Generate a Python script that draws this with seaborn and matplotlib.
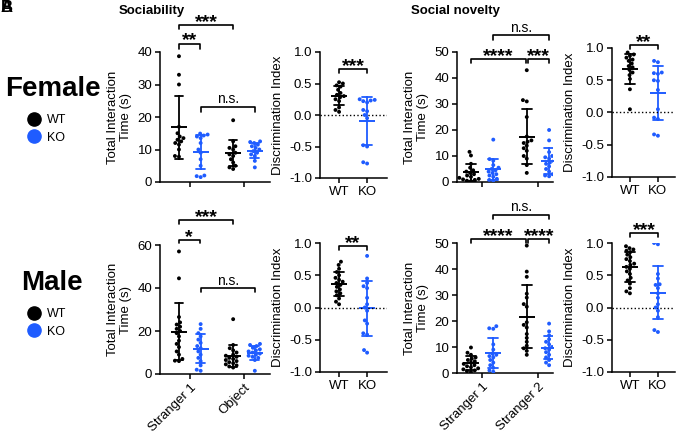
import pandas as pd
import seaborn as sns
import matplotlib.pyplot as plt
from matplotlib.lines import Line2D

sns.set_style("ticks")
plt.rcParams["font.family"] = ["Liberation Sans", "DejaVu Sans"]
plt.rcParams["axes.unicode_minus"] = False
for key in ["text.color", "axes.labelcolor", "xtick.color", "ytick.color", "axes.edgecolor"]:
    plt.rcParams[key] = "black"

KO_BLUE = "#1f5cff"
genotypes = ["WT", "KO"]
palette = {"WT": "black", "KO": KO_BLUE}

# ---- female, sociability: total interaction time (s)
f_soc_s1_wt = [38.7, 33, 30, 17, 15, 14, 13.5, 13, 12.5, 12, 11.5, 10, 8, 7.8]
f_soc_s1_ko = [14.9, 14.6, 14.3, 14, 13.5, 12, 10, 9, 7, 5, 2, 1.8, 1.5]
f_soc_obj_wt = [19, 12.5, 11, 10.5, 10, 9, 8.5, 8, 7, 6, 5, 4.5, 4]
f_soc_obj_ko = [12.5, 12.3, 12, 11.5, 11, 10.5, 10, 9.5, 9, 8.5, 8, 6.5, 4.5]
# female, sociability discrimination index
f_soc_di_wt = [0.52, 0.5, 0.47, 0.45, 0.4, 0.35, 0.32, 0.3, 0.28, 0.25, 0.22, 0.12, 0.08, 0.05]
f_soc_di_ko = [0.25, 0.24, 0.23, 0.22, 0.2, 0.08, 0.06, 0.0, -0.05, -0.48, -0.5, -0.75, -0.77]

# ---- female, social novelty
f_nov_s1_wt = [11.6, 10.2, 7, 5.5, 4.5, 4, 3.5, 3, 2.5, 2, 1.6, 1.2, 1, 0.8, 0.5, 0.3]
f_nov_s1_ko = [16.3, 8.8, 8.2, 6.5, 5.5, 5, 4.5, 4, 3.5, 3, 2.5, 2, 1.2, 0.8, 0.5]
f_nov_s2_wt = [43, 31.5, 31, 25, 17.5, 16, 15.5, 15, 14, 13, 12, 10, 9, 6.5, 3.5]
f_nov_s2_ko = [20, 16, 11.5, 10, 9.5, 9, 8, 7.5, 7, 6, 5, 4, 3, 2.5, 2.2]
f_nov_di_wt = [0.93, 0.9, 0.88, 0.85, 0.82, 0.8, 0.76, 0.72, 0.7, 0.66, 0.62, 0.58, 0.52, 0.36, 0.05]
f_nov_di_ko = [0.8, 0.78, 0.62, 0.61, 0.6, 0.5, 0.49, 0.35, 0.05, -0.08, -0.1, -0.34, -0.36]

# ---- male, sociability
m_soc_s1_wt = [57, 44.5, 26.5, 24, 23, 22, 21, 20, 19, 17.5, 15.5, 14, 12.5, 10.5, 9, 7, 6.2, 6]
m_soc_s1_ko = [23.2, 21, 19, 17.5, 16, 14.5, 13, 12, 10.5, 9, 7.5, 6, 4, 2, 1.5]
m_soc_obj_wt = [25.5, 13.5, 12, 11, 10, 9, 8.5, 8, 7.5, 7, 6.5, 6, 5.5, 5, 4.5, 4, 3.5, 3]
m_soc_obj_ko = [14, 13.5, 13, 12.2, 11.5, 11, 10.5, 10, 9.5, 9, 8.5, 8, 7.5, 6.5, 1.5]
m_soc_di_wt = [0.71, 0.66, 0.6, 0.55, 0.5, 0.46, 0.43, 0.4, 0.38, 0.35, 0.32, 0.28, 0.25,
               0.22, 0.19, 0.14, 0.09, 0.05]
m_soc_di_ko = [0.8, 0.45, 0.38, 0.33, 0.3, 0.15, 0.05, 0.0, -0.05, -0.2, -0.25, -0.4, -0.42, -0.66, -0.7]

# ---- male, social novelty
m_nov_s1_wt = [9.8, 7.8, 7, 6, 5.5, 5, 4.5, 4, 3.5, 3, 2.6, 2.2, 1.8, 1.4, 1, 0.7, 0.4]
m_nov_s1_ko = [18, 17.2, 17, 11, 9, 7.5, 7, 6.5, 6, 5, 4, 3, 2, 1, 0.5]
m_nov_s2_wt = [49, 39, 37, 30.5, 29, 26.5, 25.5, 19.5, 18.5, 17.5, 15, 13.5, 12, 10.5, 9.5, 8.5, 7]
m_nov_s2_ko = [19, 16, 14.5, 13, 12, 11, 10, 9.5, 9, 8, 7, 6, 5, 4, 3]
m_nov_di_wt = [0.95, 0.92, 0.9, 0.88, 0.86, 0.82, 0.78, 0.75, 0.72, 0.68, 0.66, 0.63, 0.6,
               0.56, 0.52, 0.46, 0.42, 0.37, 0.3, 0.25, 0.22]
m_nov_di_ko = [1.0, 0.98, 0.52, 0.45, 0.36, 0.35, 0.3, 0.22, 0.15, 0.05, 0.0, -0.05, -0.15, -0.35, -0.38]

soc_conds = ["Stranger 1", "Object"]
nov_conds = ["Stranger 1", "Stranger 2"]


def to_df(groups):
    rows = []
    for cond, geno, vals in groups:
        for v in vals:
            rows.append((cond, geno, v))
    return pd.DataFrame(rows, columns=["cond", "geno", "value"])


def scatter_sd(ax, df, x, order, dodge, capsize, mean_w):
    sns.swarmplot(data=df, x=x, y="value", hue="geno", order=order, hue_order=genotypes,
                  palette=palette, dodge=dodge, size=2.8, ax=ax, legend=False)
    sns.pointplot(data=df, x=x, y="value", hue="geno", order=order, hue_order=genotypes,
                  palette=palette, dodge=0.4 if dodge else False, errorbar="sd",
                  markers="_", markersize=mean_w, markeredgewidth=1.4, linestyle="none",
                  capsize=capsize, err_kws={"linewidth": 1.3}, ax=ax, legend=False)
    ax.set_xlabel("")


def bracket(ax, x1, x2, y, leg, label):
    ax.plot([x1, x1, x2, x2], [y - leg, y, y, y - leg], color="black", lw=1.2, clip_on=False)
    if label == "n.s.":
        ax.annotate(label, ((x1 + x2) / 2, y), xytext=(0, 2.5), textcoords="offset points",
                    ha="center", va="baseline", fontsize=10, annotation_clip=False)
    else:
        ax.annotate(label, ((x1 + x2) / 2, y), xytext=(0, -1.2), textcoords="offset points",
                    ha="center", va="baseline", fontsize=14, fontweight="bold",
                    annotation_clip=False)


def style(ax, yticks, ylabel):
    ax.set_ylim(yticks[0], yticks[-1])
    ax.set_yticks(yticks)
    ax.set_ylabel(ylabel, fontsize=9.5, linespacing=1.1)
    for s in ["top", "right"]:
        ax.spines[s].set_visible(False)
    for s in ["left", "bottom"]:
        ax.spines[s].set_linewidth(1.1)
    ax.tick_params(direction="out", length=3.5, width=1.1, labelsize=9.5, pad=2)


fig = plt.figure(figsize=(6.8, 4.37), dpi=100)
W, H = 680, 437


def add_ax(x0, x1, ytop, ybot):
    return fig.add_axes([x0 / W, 1 - ybot / H, (x1 - x0) / W, (ybot - ytop) / H])


time_label = "Total Interaction\nTime (s)"
di_label = "Discrimination Index"

rows = [
    dict(top=52, bot=182, nov_top=52, nov_bot=182, di_top=52, di_bot=178, di2_top=48, di2_bot=177,
         bot_row=False,
         soc=[f_soc_s1_wt, f_soc_s1_ko, f_soc_obj_wt, f_soc_obj_ko], soc_ticks=[0, 10, 20, 30, 40],
         soc_di=[f_soc_di_wt, f_soc_di_ko],
         nov=[f_nov_s1_wt, f_nov_s1_ko, f_nov_s2_wt, f_nov_s2_ko], nov_di=[f_nov_di_wt, f_nov_di_ko],
         soc_br=[(-0.2, 0.8, 48.3, 1.2, "***"), (-0.2, 0.18, 42.5, 1.6, "**"), (0.2, 1.2, 23.1, 1.6, "n.s.")],
         soc_di_br=(0.73, "***"),
         nov_br=[(0.2, 1.2, 56.5, 1.9, "n.s."), (-0.2, 0.78, 47.3, 1.5, "****"), (0.83, 1.2, 47.3, 1.5, "***")],
         nov_di_br=(1.047, "**")),
    dict(top=245, bot=374, nov_top=243, nov_bot=373, di_top=243, di_bot=372, di2_top=243, di2_bot=372,
         bot_row=True,
         soc=[m_soc_s1_wt, m_soc_s1_ko, m_soc_obj_wt, m_soc_obj_ko], soc_ticks=[0, 20, 40, 60],
         soc_di=[m_soc_di_wt, m_soc_di_ko],
         nov=[m_nov_s1_wt, m_nov_s1_ko, m_nov_s2_wt, m_nov_s2_ko], nov_di=[m_nov_di_wt, m_nov_di_ko],
         soc_br=[(-0.2, 0.8, 71.6, 1.8, "***"), (-0.2, 0.18, 62.3, 1.4, "*"), (0.2, 1.2, 40, 1.9, "n.s.")],
         soc_di_br=(0.95, "**"),
         nov_br=[(0.2, 1.2, 60.8, 1.6, "n.s."), (-0.2, 0.78, 51.5, 1.5, "****"), (0.83, 1.2, 51.5, 1.5, "****")],
         nov_di_br=(1.155, "***")),
]

di_ticks = [-1.0, -0.5, 0.0, 0.5, 1.0]

for r in rows:
    # sociability time
    ax = add_ax(160, 270, r["top"], r["bot"])
    s = r["soc"]
    df = to_df([("Stranger 1", "WT", s[0]), ("Stranger 1", "KO", s[1]),
                ("Object", "WT", s[2]), ("Object", "KO", s[3])])
    scatter_sd(ax, df, "cond", soc_conds, True, 0.16, 11)
    style(ax, r["soc_ticks"], time_label)
    ax.set_xlim(-0.55, 1.48)
    for b in r["soc_br"]:
        bracket(ax, *b)
    if r["bot_row"]:
        ax.set_xticks(range(2), soc_conds, rotation=45, ha="right", rotation_mode="anchor")
    else:
        ax.set_xticks(range(2), ["", ""])

    # sociability DI
    ax = add_ax(320, 387, r["di_top"], r["di_bot"])
    df = to_df([("", "WT", r["soc_di"][0]), ("", "KO", r["soc_di"][1])])
    scatter_sd(ax, df, "geno", genotypes, False, 0.36, 12)
    ax.axhline(0, color="black", ls=":", lw=1)
    style(ax, di_ticks, di_label)
    ax.set_yticklabels([f"{t:.1f}" for t in di_ticks])
    ax.set_xlim(-0.68, 1.71)
    bracket(ax, 0, 1, r["soc_di_br"][0], 0.06, r["soc_di_br"][1])

    # social novelty time
    ax = add_ax(457, 553, r["nov_top"], r["nov_bot"])
    n = r["nov"]
    df = to_df([("Stranger 1", "WT", n[0]), ("Stranger 1", "KO", n[1]),
                ("Stranger 2", "WT", n[2]), ("Stranger 2", "KO", n[3])])
    scatter_sd(ax, df, "cond", nov_conds, True, 0.18, 12)
    style(ax, [0, 10, 20, 30, 40, 50], time_label)
    ax.set_xlim(-0.45, 1.27)
    for b in r["nov_br"]:
        bracket(ax, *b)
    if r["bot_row"]:
        ax.set_xticks(range(2), nov_conds, rotation=45, ha="right", rotation_mode="anchor")
    else:
        ax.set_xticks(range(2), ["", ""])

    # social novelty DI
    ax = add_ax(612, 675, r["di2_top"], r["di2_bot"])
    df = to_df([("", "WT", r["nov_di"][0]), ("", "KO", r["nov_di"][1])])
    scatter_sd(ax, df, "geno", genotypes, False, 0.36, 12)
    ax.axhline(0, color="black", ls=":", lw=1)
    style(ax, di_ticks, di_label)
    ax.set_yticklabels([f"{t:.1f}" for t in di_ticks])
    ax.set_xlim(-0.64, 1.61)
    bracket(ax, 0, 1, r["nov_di_br"][0], 0.06, r["nov_di_br"][1])

# titles and row labels
fig.text(1 / W, 1 - 8 / H, "B", fontsize=12, fontweight="bold", va="center")
fig.text(1 / W, 1 - 8 / H, "A", fontsize=12, fontweight="bold", va="center")
fig.text(119 / W, 1 - 11 / H, "Sociability", fontsize=9.5, fontweight="bold", va="center")
fig.text(411 / W, 1 - 11 / H, "Social novelty", fontsize=9.5, fontweight="bold", va="center")
fig.text(5 / W, 1 - 89 / H, "Female", fontsize=20, fontweight="bold", va="center")
fig.text(21 / W, 1 - 283 / H, "Male", fontsize=20, fontweight="bold", va="center")

handles = [Line2D([], [], marker="o", ls="", color=palette[g], markersize=9.5) for g in genotypes]
for ytop in (114, 308):
    fig.legend(handles, genotypes, loc="upper left", bbox_to_anchor=(28 / W, 1 - ytop / H),
               frameon=False, fontsize=9, handlelength=1, handletextpad=0.5,
               labelspacing=0.45, borderpad=0, borderaxespad=0)

fig.savefig("out.png", dpi=100)
